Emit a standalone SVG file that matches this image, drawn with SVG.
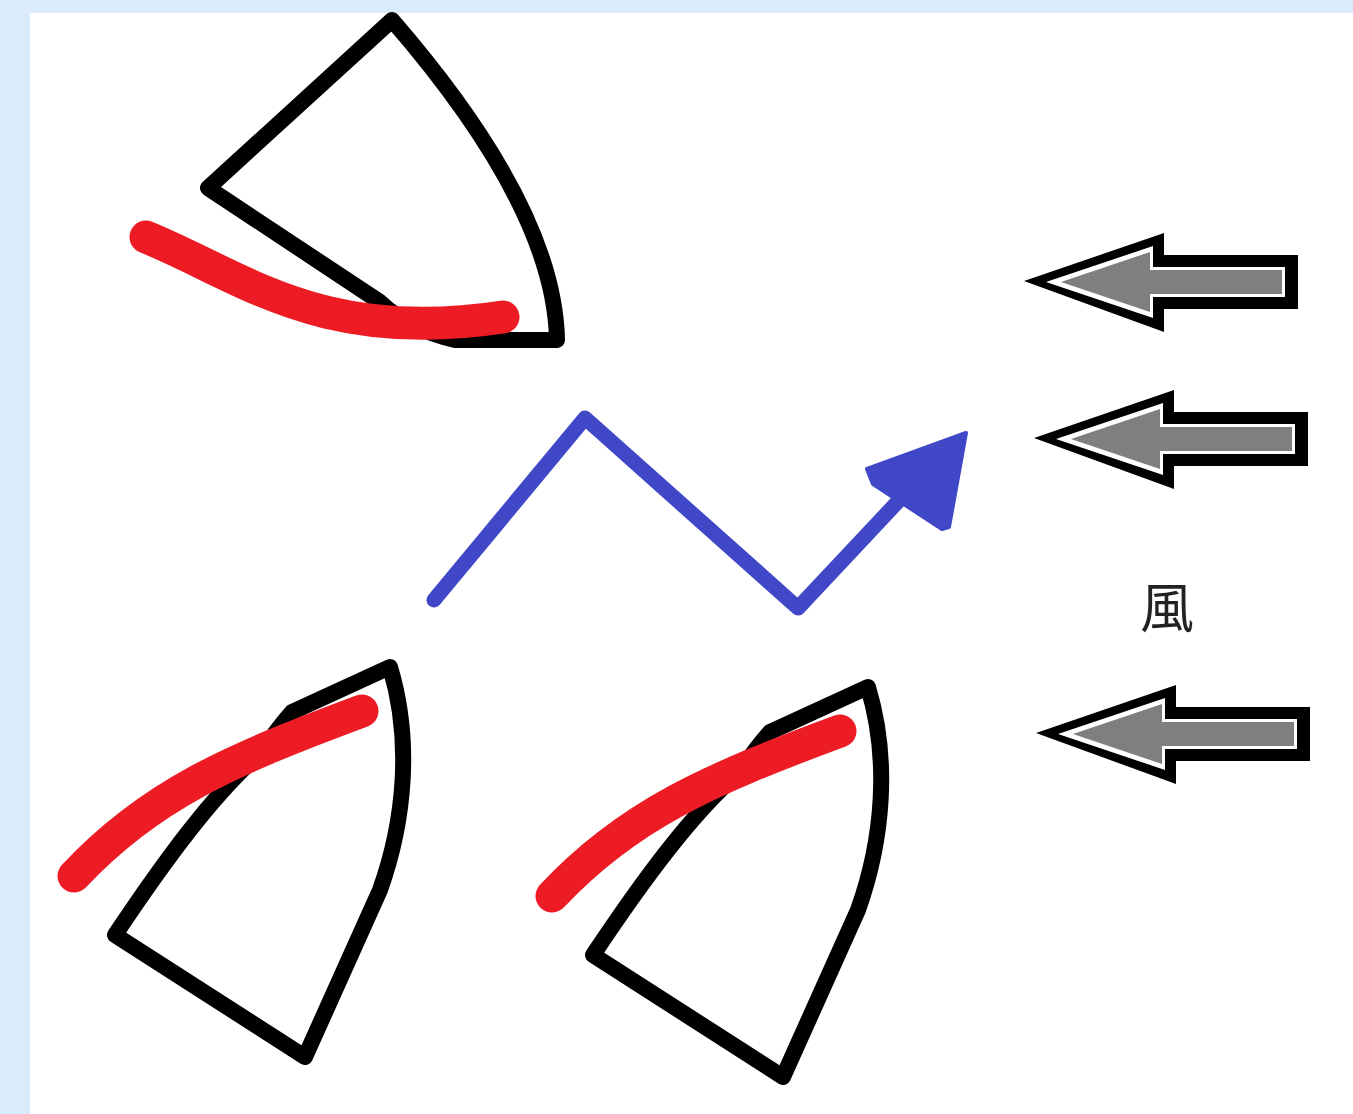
<svg xmlns="http://www.w3.org/2000/svg" width="1353" height="1114" viewBox="0 0 1353 1114">
<style>
.sail{fill:none;stroke:#000;stroke-width:16;stroke-linejoin:round;stroke-linecap:round}
.red{fill:none;stroke:#ed1c24;stroke-width:33;stroke-linecap:round}
.blue{fill:none;stroke:#4048c8;stroke-width:15;stroke-linejoin:round;stroke-linecap:round}
.ao{fill:#000}
.aw{fill:#fff}
.ag{fill:#7f7f7f}
.lbl{font-family:"Noto Sans CJK JP","Noto Sans CJK SC",sans-serif;font-size:54px;fill:#222}
</style>
<defs>
<g id="arrowShape">
<polygon class="ao" points="1024,281 1164,233 1164,255 1298,255 1298,309 1164,309 1164,332"/>
<polygon class="aw" points="1046,282 1153,246 1153,267 1285,267 1285,297 1153,297 1153,318"/>
<polygon class="ag" points="1061,282 1150,252 1150,270 1282,270 1282,294 1150,294 1150,312"/>
</g>
<g id="lowerSail">
<path class="sail" d="M390,667 C412,740 405,820 380,890 L305,1057 L115,935 C165,860 215,792 262,752 Q276,730 292,712 L390,667 Z"/>
<path class="red" d="M74,876 C150,795 230,760 362,711"/>
</g>
</defs>
<rect x="0" y="0" width="1353" height="1114" fill="#daebfc"/>
<rect x="30" y="13" width="1323" height="1101" fill="#fff"/>
<g id="sail-top">
<path class="sail" d="M392,20 C470,110 555,230 557,340 L455,340 Q410,330 380,302 L208,188 Z"/>
<path class="red" d="M146,237 C240,275 320,345 503,317"/>
</g>
<g id="sail-bottom-left">
<use href="#lowerSail"/>
</g>
<g id="sail-bottom-right">
<use href="#lowerSail" transform="translate(478,20)"/>
</g>
<g id="connectors">
<polyline class="blue" points="434,600 585,418 798,608 905,494"/>
<polygon fill="#4048c8" stroke="#4048c8" stroke-width="4" stroke-linejoin="round" points="966,433 867,469 873,484 942,529 949,527"/>
</g>
<g id="wind-arrow-1"><use href="#arrowShape"/></g>
<g id="wind-arrow-2"><use href="#arrowShape" transform="translate(10,157)"/></g>
<g id="wind-arrow-3"><use href="#arrowShape" transform="translate(12,452)"/></g>
<g id="label-wind">
<text class="lbl" x="1167" y="628" text-anchor="middle">風</text>
</g>
</svg>
